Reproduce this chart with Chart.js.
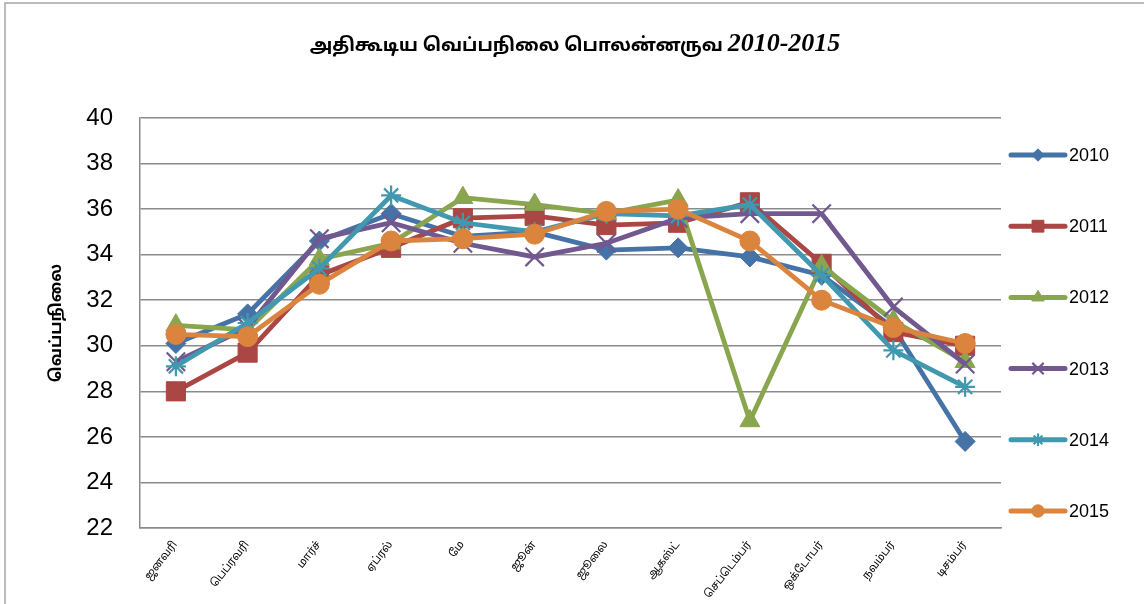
<!DOCTYPE html>
<html>
<head>
<meta charset="utf-8">
<script src="https://cdn.jsdelivr.net/npm/chart.js@4/dist/chart.umd.min.js"></script>
<style>
  html, body { margin: 0; padding: 0; background: #ffffff; }
  #wrap { width: 1144px; height: 604px; }
</style>
</head>
<body>
<div id="wrap"><canvas id="c" width="1144" height="604"></canvas></div>
<script>
// Months (Tamil) and monthly maximum temperatures, Polonnaruwa
const months = ['ஜனவரி', 'பெப்ரவரி', 'மார்ச்', 'ஏப்ரல்', 'மே', 'ஜூன்', 'ஜூலை', 'ஆகஸ்ட்', 'செப்டெம்பர்', 'ஒக்டோபர்', 'நவம்பர்', 'டிசம்பர்'];
const years = ['2010', '2011', '2012', '2013', '2014', '2015'];

const t2010 = [30.1, 31.4, 34.6, 35.8, 34.8, 35.0, 34.2, 34.3, 33.9, 33.1, 30.8, 25.8];
const t2011 = [28.0, 29.7, 33.1, 34.3, 35.6, 35.7, 35.3, 35.4, 36.3, 33.6, 30.6, 30.0];
const t2012 = [30.9, 30.7, 33.8, 34.5, 36.5, 36.2, 35.8, 36.4, 26.7, 33.5, 31.1, 29.3];
const t2013 = [29.3, 30.8, 34.7, 35.4, 34.5, 33.9, 34.5, 35.6, 35.8, 35.8, 31.7, 29.2];
const t2014 = [29.1, 31.0, 33.4, 36.6, 35.4, 35.0, 35.8, 35.7, 36.2, 33.1, 29.8, 28.2];
const t2015 = [30.5, 30.4, 32.7, 34.6, 34.7, 34.9, 35.9, 36.0, 34.6, 32.0, 30.8, 30.1];

const yTicks = [22, 24, 26, 28, 30, 32, 34, 36, 38, 40];

const titleTamil = 'அதிகூடிய வெப்பநிலை பொலன்னருவ ';
const titleYears = '2010-2015';
const yTitle = 'வெப்பநிலை';

const TAMIL = "'Noto Sans Tamil', 'Latha', 'Lohit Tamil', 'Noto Sans', sans-serif";
const ARIAL = "'Liberation Sans', Arial, sans-serif";

const series = [t2010, t2011, t2012, t2013, t2014, t2015];
const colors = ['#4572A7', '#AA4643', '#89A54E', '#71588F', '#4198AF', '#DB843D'];
const styles = ['rectRot', 'rect', 'triangle', 'crossRot', 'star', 'circle'];
const radii = [10, 13.5, 11.5, 13, 10, 10];

const datasets = series.map((vals, i) => ({
  label: years[i],
  data: vals,
  borderColor: colors[i],
  backgroundColor: colors[i],
  pointBackgroundColor: colors[i],
  pointBorderColor: colors[i],
  pointStyle: styles[i],
  pointRadius: radii[i],
  pointHoverRadius: radii[i],
  pointBorderWidth: (styles[i] === 'crossRot' || styles[i] === 'star') ? 2.2 : 1,
  borderWidth: 4.8,
  tension: 0,
  fill: false,
  order: years.length - i
}));

// Outer frame of the chart
const framePlugin = {
  id: 'frame',
  beforeDraw(chart) {
    const ctx = chart.ctx;
    ctx.save();
    ctx.fillStyle = '#ffffff';
    ctx.fillRect(0, 0, chart.width, chart.height);
    ctx.strokeStyle = '#a6a6a6';
    ctx.lineWidth = 1.5;
    ctx.strokeRect(5, 3, chart.width + 10, chart.height + 10);
    ctx.restore();
  }
};

// Title with Tamil text followed by the year range
const titlePlugin = {
  id: 'mixedTitle',
  afterDraw(chart) {
    const ctx = chart.ctx;
    ctx.save();
    ctx.fillStyle = '#000000';
    ctx.textBaseline = 'alphabetic';
    const f1 = "bold 18.5px " + TAMIL;
    const f2 = "italic bold 26px 'Liberation Serif', 'Times New Roman', serif";
    ctx.font = f1;
    const w1 = ctx.measureText(titleTamil).width;
    ctx.font = f2;
    const w2 = ctx.measureText(titleYears).width;
    const cx = 575;
    let x = cx - (w1 + w2) / 2;
    const y = 51;
    ctx.font = f1;
    ctx.textAlign = 'left';
    ctx.fillText(titleTamil, x, y);
    ctx.font = f2;
    ctx.fillText(titleYears, x + w1, y);
    ctx.restore();
  }
};

// Legend on the right: line segment with the series marker in the middle
const legendPlugin = {
  id: 'sideLegend',
  afterDraw(chart) {
    const ctx = chart.ctx;
    const x0 = 1011, x1 = 1065;
    const yStart = 155, step = 71.2;
    chart.data.datasets.forEach((ds, i) => {
      const y = yStart + i * step;
      ctx.save();
      ctx.strokeStyle = ds.borderColor;
      ctx.lineWidth = 5;
      ctx.lineCap = 'round';
      ctx.beginPath();
      ctx.moveTo(x0, y);
      ctx.lineTo(x1, y);
      ctx.stroke();
      ctx.restore();
      ctx.save();
      ctx.fillStyle = ds.pointBackgroundColor;
      ctx.strokeStyle = ds.pointBorderColor;
      ctx.lineWidth = ds.pointBorderWidth;
      Chart.helpers.drawPoint(ctx, {
        pointStyle: ds.pointStyle,
        radius: ds.pointRadius * 0.62,
        rotation: 0,
        borderWidth: ds.pointBorderWidth
      }, (x0 + x1) / 2, y);
      ctx.restore();
      ctx.save();
      ctx.fillStyle = '#000000';
      ctx.font = '18px ' + ARIAL;
      ctx.textAlign = 'left';
      ctx.textBaseline = 'middle';
      ctx.fillText(ds.label, 1069, y + 1);
      ctx.restore();
    });
  }
};

new Chart(document.getElementById('c'), {
  type: 'line',
  data: { labels: months, datasets },
  plugins: [framePlugin, titlePlugin, legendPlugin],
  options: {
    responsive: false,
    animation: false,
    events: [],
    layout: { padding: { top: 118, right: 143, left: 0, bottom: 0 } },
    plugins: {
      legend: { display: false },
      title: { display: false },
      tooltip: { enabled: false }
    },
    scales: {
      x: {
        offset: true,
        grid: { display: false, drawTicks: false },
        border: { display: true, color: '#8a8a8a', width: 1.5 },
        ticks: {
          color: '#000000',
          font: { family: TAMIL, size: 11 },
          minRotation: 52,
          maxRotation: 52,
          autoSkip: false,
          padding: 11
        },
        afterFit(scale) { scale.height = 76; }
      },
      y: {
        min: 22,
        max: 40,
        afterBuildTicks(scale) { scale.ticks = yTicks.map(v => ({ value: v })); },
        grid: { color: '#8a8a8a', lineWidth: 1.5, drawTicks: false },
        border: { display: true, color: '#8a8a8a', width: 1.5 },
        ticks: {
          color: '#000000',
          font: { family: ARIAL, size: 24 },
          padding: 27
        },
        title: {
          display: true,
          text: yTitle,
          color: '#000000',
          font: { family: TAMIL, size: 16, weight: 'bold' },
          padding: { top: 48, bottom: 0 }
        },
        afterFit(scale) { scale.width = 140; }
      }
    }
  }
});
</script>
</body>
</html>
